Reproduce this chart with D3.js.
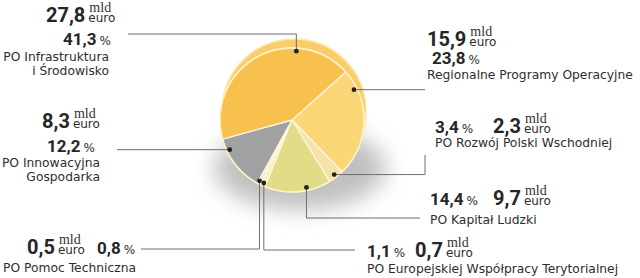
<!DOCTYPE html>
<html>
<head>
<meta charset="utf-8">
<script src="https://cdn.jsdelivr.net/npm/d3@7"></script>
<style>
  body { margin: 0; background: #fff; }
  svg { display: block; }
  .val { font-family: Roboto, "DejaVu Sans"; font-weight: 700; fill: #262626; }
  .unit { font-family: "Liberation Serif", serif; fill: #333; }
  .name { font-family: "DejaVu Sans", sans-serif; fill: #2e2e2e; }
</style>
</head>
<body>
<div id="chart"></div>
<script>
// Dane: programy operacyjne (mld euro i udział %)
const programs = [
    ["Regionalne Programy Operacyjne"],
    ["PO Rozwój Polski Wschodniej"],
    ["PO Kapitał Ludzki"],
    ["PO Europejskiej Współpracy Terytorialnej"],
    ["PO Pomoc Techniczna"],
    ["PO Innowacyjna", "Gospodarka"],
    ["PO Infrastruktura", "i Środowisko"]
];
const amounts = [15.9, 2.3, 9.7, 0.7, 0.5, 8.3, 27.8];
const shares = [23.8, 3.4, 14.4, 1.1, 0.8, 12.2, 41.3];
const colors = ["#fbd677", "#f6e3aa", "#e0dc88", "#f4efcb", "#f2ecc8", "#a0a1a3", "#f8c04c"];

const W = 640, H = 278;
const cx = 292, cy = 120, R = 72;

const svg = d3.select("#chart").append("svg")
    .attr("width", W)
    .attr("height", H);

const defs = svg.append("defs");
defs.append("filter").attr("id", "blur")
    .attr("x", "-50%").attr("y", "-50%").attr("width", "200%").attr("height", "200%")
    .append("feGaussianBlur").attr("stdDeviation", 11);

// cień pod wykresem
svg.append("ellipse")
    .attr("cx", cx + 8).attr("cy", cy + 48)
    .attr("rx", 86).attr("ry", 42)
    .attr("fill", "#8d8d8d")
    .attr("opacity", 0.55)
    .attr("filter", "url(#blur)");

// górna krawędź (efekt 3D)
svg.append("circle")
    .attr("cx", cx + 2).attr("cy", cy - 9)
    .attr("r", R)
    .attr("fill", "#f9cd6a")
    .attr("stroke", "#fde7ad")
    .attr("stroke-width", 1.5);

const start = 0.84;
const pie = d3.pie().sort(null).value(d => d).startAngle(start).endAngle(start + 2 * Math.PI);
const arcs = pie(amounts);
const arc = d3.arc().innerRadius(0).outerRadius(R);

const g = svg.append("g").attr("transform", `translate(${cx},${cy})`);
g.selectAll("path")
    .data(arcs)
    .enter()
    .append("path")
    .attr("d", arc)
    .attr("fill", (d, i) => colors[i])
    .attr("stroke", "#fff6dc")
    .attr("stroke-width", 1.3)
    .attr("stroke-linejoin", "round");

g.append("circle").attr("r", R).attr("fill", "none")
    .attr("stroke", "#fdf1c6").attr("stroke-width", 1.5);

// Odnośniki: położenie kropki w wycinku (t) i trasa linii
const leaders = [
    { t: 0.18, route: [{ x: 425 }] },
    { t: 0.5, route: [{ x: 425 }, { y: 155 }] },
    { t: 0.36, route: [{ y: 218 }, { x: 420 }] },
    { t: 0.5, route: [{ y: 250 }, { x: 355 }] },
    { t: 0.75, route: [{ y: 249 }, { x: 141 }] },
    { t: 0.78, route: [{ x: 117 }] },
    { t: 0.71, route: [{ y: 34 }, { x: 128 }] }
];

arcs.forEach((a, i) => {
    const L = leaders[i];
    const ang = a.startAngle + (a.endAngle - a.startAngle) * L.t;
    const r = R - 3;
    let p = [cx + r * Math.sin(ang), cy - r * Math.cos(ang)];
    const pts = [p];
    L.route.forEach(s => {
        p = s.x !== undefined ? [s.x, p[1]] : [p[0], s.y];
        pts.push(p);
    });
    svg.append("path")
        .attr("d", d3.line()(pts))
        .attr("fill", "none")
        .attr("stroke", "#6f6f6f")
        .attr("stroke-width", 1);
    svg.append("circle")
        .attr("cx", pts[0][0]).attr("cy", pts[0][1])
        .attr("r", 2.4)
        .attr("fill", "#2a1f1f");
});

// Etykiety
const fmt = v => d3.format(".1f")(v).replace(".", ",");

function valueRow(x, y, v) {
    const t = svg.append("text").attr("class", "val")
        .attr("x", x).attr("y", y).attr("font-size", 20).text(fmt(v));
    const w = t.node().getComputedTextLength();
    svg.append("text").attr("class", "unit").attr("font-size", 14)
        .attr("x", x + w + 4).attr("y", y - 10).text("mld");
    svg.append("text").attr("class", "name").attr("font-size", 12)
        .attr("x", x + w + 3).attr("y", y).text("euro");
}

function pctRow(x, y, v) {
    const t = svg.append("text").attr("class", "val")
        .attr("x", x).attr("y", y).attr("font-size", 17).text(fmt(v));
    const w = t.node().getComputedTextLength();
    svg.append("text").attr("class", "name").attr("font-size", 12)
        .attr("x", x + w + 3).attr("y", y).text("%");
}

function nameRows(x, y, lines, anchor) {
    lines.forEach((s, k) => {
        svg.append("text").attr("class", "name")
            .attr("font-size", 12.3)
            .attr("text-anchor", anchor)
            .attr("x", x).attr("y", y + k * 14)
            .text(s);
    });
}

const labels = [
    { val: [427, 46], pct: [432, 64], name: [427, 79, "start"] },
    { val: [493, 133], pct: [435, 133], name: [435, 147, "start"] },
    { val: [493, 205], pct: [430, 205], name: [430, 224, "start"] },
    { val: [415, 257], pct: [367, 257], name: [367, 273, "start"] },
    { val: [27, 254], pct: [97, 254], name: [3, 272, "start"] },
    { val: [42, 128], pct: [47, 152], name: [100, 167, "end"] },
    { val: [46, 22], pct: [63, 45], name: [109, 61, "end"] }
];

labels.forEach((l, i) => {
    valueRow(l.val[0], l.val[1], amounts[i]);
    pctRow(l.pct[0], l.pct[1], shares[i]);
    nameRows(l.name[0], l.name[1], programs[i], l.name[2]);
});
</script>
</body>
</html>
